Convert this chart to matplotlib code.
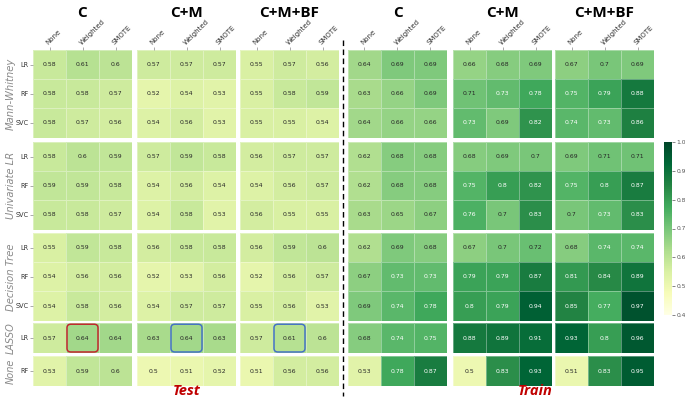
import matplotlib
matplotlib.use("Agg")
import matplotlib.pyplot as plt
import numpy as np
import seaborn as sns
from matplotlib.patches import FancyBboxPatch
from matplotlib.lines import Line2D

# rows: Mann-Whitney (LR, RF, SVC), Univariate LR (LR, RF, SVC),
# Decision Tree (LR, RF, SVC), LASSO (LR), None (RF)
groups = ["Mann-Whitney", "Univariate LR", "Decision Tree", "LASSO", "None"]
group_models = [["LR", "RF", "SVC"], ["LR", "RF", "SVC"], ["LR", "RF", "SVC"], ["LR"], ["RF"]]
balancing = ["None", "Weighted", "SMOTE"]
feature_sets = ["C", "C+M", "C+M+BF"]

test_C = [[0.58, 0.61, 0.6], [0.58, 0.58, 0.57], [0.58, 0.57, 0.56],
          [0.58, 0.6, 0.59], [0.59, 0.59, 0.58], [0.58, 0.58, 0.57],
          [0.55, 0.59, 0.58], [0.54, 0.56, 0.56], [0.54, 0.58, 0.56],
          [0.57, 0.64, 0.64],
          [0.53, 0.59, 0.6]]
test_CM = [[0.57, 0.57, 0.57], [0.52, 0.54, 0.53], [0.54, 0.56, 0.53],
           [0.57, 0.59, 0.58], [0.54, 0.56, 0.54], [0.54, 0.58, 0.53],
           [0.56, 0.58, 0.58], [0.52, 0.53, 0.56], [0.54, 0.57, 0.57],
           [0.63, 0.64, 0.63],
           [0.5, 0.51, 0.52]]
test_CMBF = [[0.55, 0.57, 0.56], [0.55, 0.58, 0.59], [0.55, 0.55, 0.54],
             [0.56, 0.57, 0.57], [0.54, 0.56, 0.57], [0.56, 0.55, 0.55],
             [0.56, 0.59, 0.6], [0.52, 0.56, 0.57], [0.55, 0.56, 0.53],
             [0.57, 0.61, 0.6],
             [0.51, 0.56, 0.56]]
train_C = [[0.64, 0.69, 0.69], [0.63, 0.66, 0.69], [0.64, 0.66, 0.66],
           [0.62, 0.68, 0.68], [0.62, 0.68, 0.68], [0.63, 0.65, 0.67],
           [0.62, 0.69, 0.68], [0.67, 0.73, 0.73], [0.69, 0.74, 0.78],
           [0.68, 0.74, 0.75],
           [0.53, 0.78, 0.87]]
train_CM = [[0.66, 0.68, 0.69], [0.71, 0.73, 0.78], [0.73, 0.69, 0.82],
            [0.68, 0.69, 0.7], [0.75, 0.8, 0.82], [0.76, 0.7, 0.83],
            [0.67, 0.7, 0.72], [0.79, 0.79, 0.87], [0.8, 0.79, 0.94],
            [0.88, 0.89, 0.91],
            [0.5, 0.83, 0.93]]
train_CMBF = [[0.67, 0.7, 0.69], [0.75, 0.79, 0.88], [0.74, 0.73, 0.86],
              [0.69, 0.71, 0.71], [0.75, 0.8, 0.87], [0.7, 0.73, 0.83],
              [0.68, 0.74, 0.74], [0.81, 0.84, 0.89], [0.85, 0.77, 0.97],
              [0.93, 0.8, 0.96],
              [0.51, 0.83, 0.95]]

panels = [test_C, test_CM, test_CMBF, train_C, train_CM, train_CMBF]
# highlighted cells on the test side: (panel, group, model row, column, colour)
highlights = [(0, 3, 0, 1, "#c0272d"), (1, 3, 0, 1, "#4472c4"), (2, 3, 0, 1, "#4472c4")]

W, H = 685, 398
fig = plt.figure(figsize=(W / 100, H / 100), dpi=100)


def px_axes(x0, y0, w, h):
    return fig.add_axes([x0 / W, 1 - (y0 + h) / H, w / W, h / H])


col_left = [33, 137, 240, 348, 453, 555]
col_w = 99
row_top = [50, 142, 233, 323, 356]
row_h = 29.2

cmap = "YlGn"
vmin, vmax = 0.4, 1.0

for p, data in enumerate(panels):
    arr = np.array(data)
    start = 0
    for g, models in enumerate(group_models):
        n = len(models)
        sub = arr[start:start + n]
        start += n
        h = n * row_h + (1 if n == 1 else 0)
        ax = px_axes(col_left[p], row_top[g], col_w, h)
        sns.heatmap(sub, ax=ax, cmap=cmap, vmin=vmin, vmax=vmax, cbar=False,
                    annot=True, fmt="g", annot_kws={"size": 4.4},
                    linewidths=0.5, linecolor=(1, 1, 1, 0.35))
        ax.set_xticks(np.arange(3) + 0.5)
        ax.set_yticks(np.arange(n) + 0.5)
        if g == 0:
            ax.xaxis.tick_top()
            ax.set_xticklabels(balancing, rotation=45, ha="left",
                               rotation_mode="anchor", fontsize=5, color="#333333")
            ax.tick_params(axis="x", length=2, width=0.5, pad=1, colors="#888888",
                           labelcolor="#333333")
        else:
            ax.set_xticks([])
        if p == 0:
            ax.set_yticklabels(models, rotation=0, fontsize=4.7, color="#333333")
            ax.tick_params(axis="y", length=2, width=0.5, pad=1, colors="#888888",
                           labelcolor="#333333")
            fig.text(11 / W, 1 - (row_top[g] + h / 2) / H, groups[g], rotation=90,
                     fontsize=7.2 if n > 1 else 7, style="italic", color="#8a8a8a",
                     ha="center", va="center")
        else:
            ax.set_yticks([])
        for hp, hg, hr, hc, color in highlights:
            if hp == p and hg == g:
                ax.add_patch(FancyBboxPatch((hc + 0.03, hr + 0.04), 0.94, 0.92,
                                            boxstyle="round,pad=0,rounding_size=0.12",
                                            fill=False, edgecolor=color, lw=1.1,
                                            clip_on=False, zorder=5))
    fig.text((col_left[p] + col_w / 2) / W, 1 - 13 / H, feature_sets[p % 3],
             fontsize=11, fontweight="bold", family="Open Sans",
             ha="center", va="center")

# colorbar
cax = px_axes(664, 142, 8, 173)
sm = plt.cm.ScalarMappable(cmap=cmap, norm=plt.Normalize(vmin, vmax))
cb = fig.colorbar(sm, cax=cax)
cb.set_ticks(np.arange(0.4, 1.01, 0.1))
cb.set_ticklabels([f"{t:.1f}" for t in np.arange(0.4, 1.01, 0.1)])
cb.ax.tick_params(labelsize=4.3, length=2, width=0.5, pad=1, colors="#555555")
cb.outline.set_visible(False)

# dashed separator between test and train
fig.add_artist(Line2D([343 / W, 343 / W], [1 - 40 / H, 1 - 396 / H], color="black",
                      lw=1.0, ls=(0, (4, 2.5))))

fig.text(187 / W, 1 - 391 / H, "Test", color="#c00000", fontsize=10.5,
         fontweight="bold", style="italic", family="Open Sans", ha="center", va="center")
fig.text(535 / W, 1 - 391 / H, "Train", color="#c00000", fontsize=10.5,
         fontweight="bold", style="italic", family="Open Sans", ha="center", va="center")

fig.savefig("out.png", dpi=100)
